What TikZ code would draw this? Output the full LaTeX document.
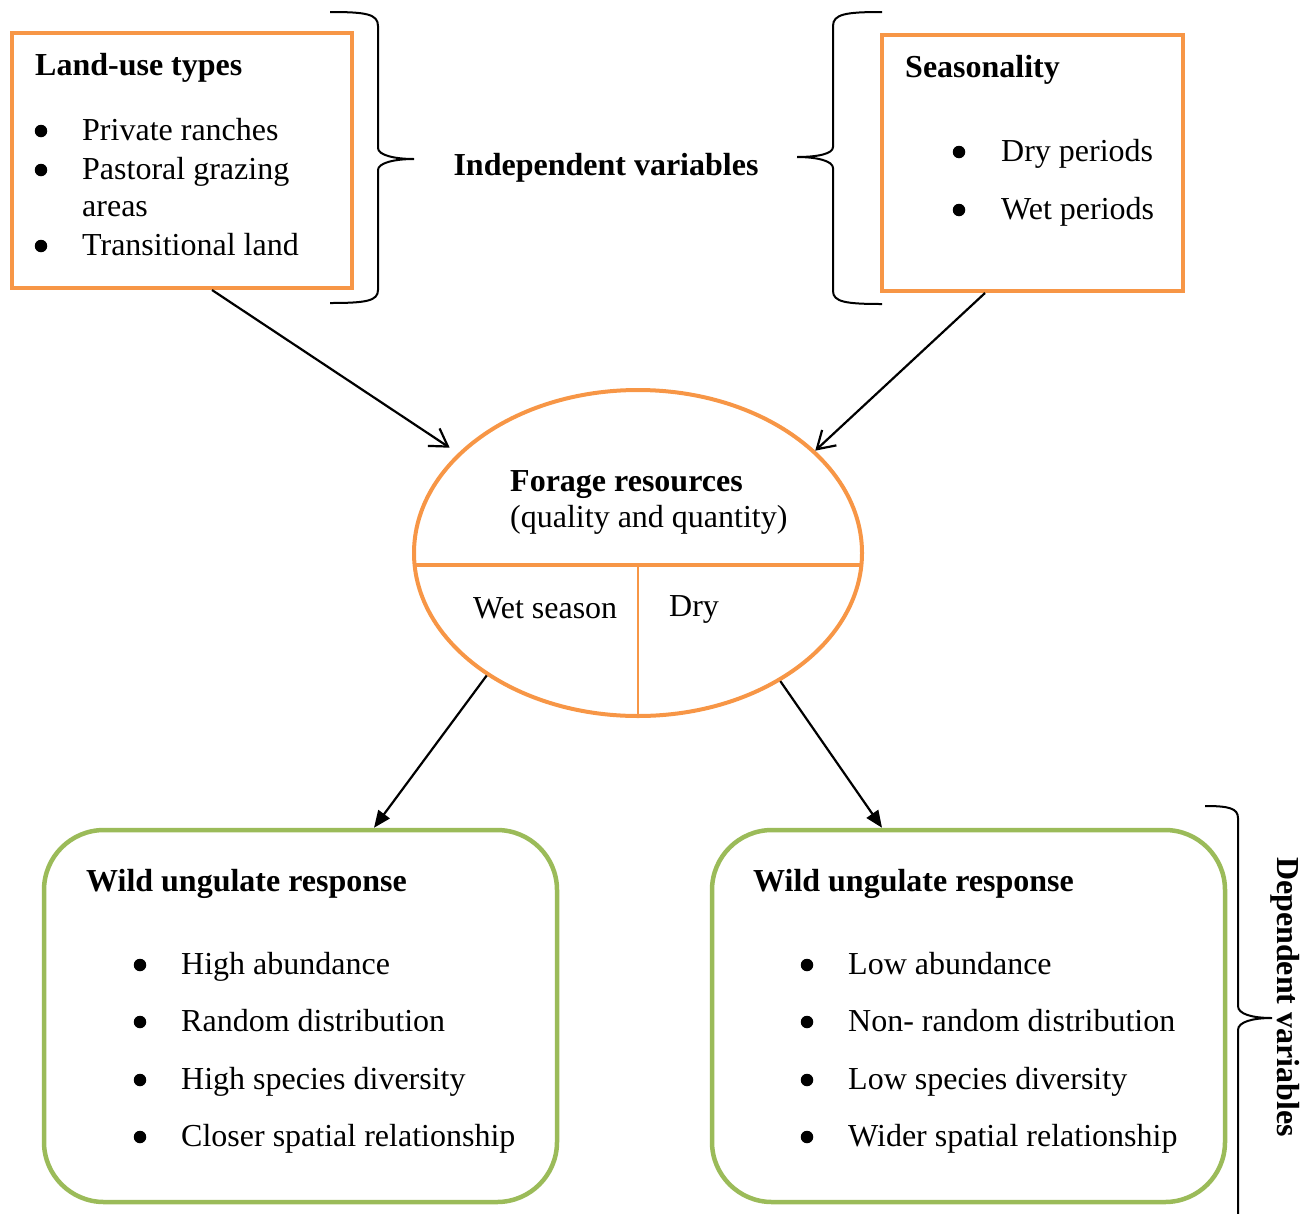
\documentclass[tikz,border=0pt]{standalone}
\usepackage{fontspec}
\setmainfont{Liberation Serif}
\usetikzlibrary{arrows.meta,shapes.geometric}
\definecolor{orng}{HTML}{F79646}
\definecolor{grn}{HTML}{9BBB59}
\tikzset{
  obox/.style={draw=orng,line width=4pt,rectangle,inner sep=0pt},
  gbox/.style={draw=grn,line width=4.5pt,rectangle,rounded corners=60pt,inner sep=0pt,minimum width=513pt,minimum height=372pt},
  txt/.style={anchor=base west,inner sep=0pt,font=\fontsize{32}{38}\selectfont},
  btxt/.style={txt,font=\fontsize{32}{38}\selectfont\bfseries},
  bul/.style={circle,fill=black,inner sep=0pt,minimum size=12.5pt},
  openarr/.style={line width=2.2pt,-{Straight Barb[length=17pt,width=21pt,line width=2.2pt]}},
  fillarr/.style={line width=2.2pt,-{Triangle[length=17pt,width=14pt]}},
  brc/.style={line width=2pt}
}
\begin{document}
\begin{tikzpicture}[x=1pt,y=-1pt]
\path[use as bounding box] (0,0) rectangle (1316,1213);
\clip (0,0) rectangle (1316,1213);
% top boxes
\node[obox,minimum width=340pt,minimum height=255pt] (box1) at (182,160.5) {};
\node[obox,minimum width=301pt,minimum height=256pt] (box2) at (1032.5,163) {};
\node[btxt] (t1) at (35,75) {Land-use types};
\node[bul] (b11) at (41,131) {};
\node[txt] (i11) at (82,140) {Private ranches};
\node[bul] (b12) at (41,170) {};
\node[txt] (i12) at (82,179) {Pastoral grazing};
\node[txt] (i12b) at (82,216) {areas};
\node[bul] (b13) at (41,246) {};
\node[txt] (i13) at (82,255) {Transitional land};
\node[btxt] (t2) at (905,77) {Seasonality};
\node[bul] (b21) at (959,152) {};
\node[txt] (i21) at (1001,161) {Dry periods};
\node[bul] (b22) at (959,210) {};
\node[txt] (i22) at (1001,219) {Wet periods};
% braces
\draw[brc] (330,12) .. controls (366,12) and (378,14) .. (378,26) -- (378,148)
  .. controls (378,155) and (394,159) .. (414,159)
  .. controls (394,159) and (378,163) .. (378,170) -- (378,290)
  .. controls (378,301) and (366,303) .. (330,303);
\draw[brc] (882,12) .. controls (846,12) and (833,14) .. (833,26) -- (833,147)
  .. controls (833,154) and (817,157) .. (797,157)
  .. controls (817,157) and (833,161) .. (833,168) -- (833,291)
  .. controls (833,302) and (846,304) .. (882,304);
\node[btxt,anchor=base] (indep) at (606,175) {Independent variables};
% ellipse
\node[ellipse,draw=orng,line width=4pt,minimum width=448pt,minimum height=326pt,inner sep=0pt] (ell) at (638,553) {};
\draw[orng,line width=3.5pt] (414.6,565) -- (861.4,565);
\draw[orng,line width=1.8pt] (638,565) -- (ell.south);
\node[btxt] (f1) at (510,491) {Forage resources};
\node[txt] (f2) at (510,527) {(quality and quantity)};
\node[txt] (wet) at (473,618) {Wet season};
\node[txt] (dry) at (669,616) {Dry};
% green boxes
\node[gbox] (g1) at (300.5,1016) {};
\node[gbox] (g2) at (968.5,1016) {};
\node[btxt] (gt1) at (86,891) {Wild ungulate response};
\node[bul] at (140,965) {};
\node[txt] at (181,974) {High abundance};
\node[bul] at (140,1022) {};
\node[txt] at (181,1031) {Random distribution};
\node[bul] at (140,1080) {};
\node[txt] at (181,1089) {High species diversity};
\node[bul] at (140,1137) {};
\node[txt] at (181,1146) {Closer spatial relationship};
\node[btxt] (gt2) at (753,891) {Wild ungulate response};
\node[bul] at (807,965) {};
\node[txt] at (848,974) {Low abundance};
\node[bul] at (807,1022) {};
\node[txt] at (848,1031) {Non- random distribution};
\node[bul] at (807,1080) {};
\node[txt] at (848,1089) {Low species diversity};
\node[bul] at (807,1137) {};
\node[txt] at (848,1146) {Wider spatial relationship};
% right brace
\draw[brc] (1205,806) .. controls (1228,806) and (1238,808) .. (1238,818) -- (1238,1006)
  .. controls (1238,1014) and (1252,1018) .. (1272,1018)
  .. controls (1252,1018) and (1238,1022) .. (1238,1030) -- (1238,1240);
\node[font=\fontsize{32}{38}\selectfont\bfseries,rotate=-90,inner sep=0pt] (dep) at (1285,997) {Dependent variables};
% arrows
\draw[openarr,shorten >=10pt] ([xshift=30pt]box1.south) -- (ell.151);
\draw[openarr] ([xshift=-47.5pt]box2.south) -- (ell.30.7);
\draw[fillarr] (ell.219.8) -- ([xshift=73.5pt]g1.north);
\draw[fillarr] (ell.318.3) -- ([xshift=-86.5pt]g2.north);
\end{tikzpicture}
\end{document}
